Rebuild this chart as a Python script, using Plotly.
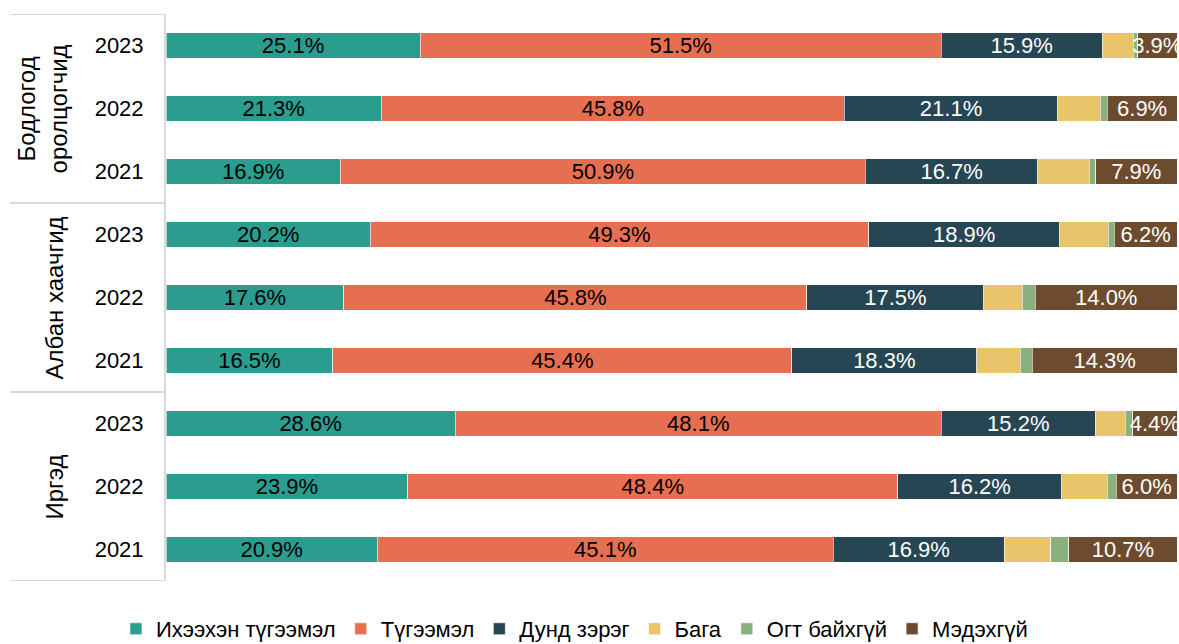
import plotly.graph_objects as go

groups = ["Бодлогод<br>оролцогчид", "Албан хаачгид", "Иргэд"]
years = ["2023", "2022", "2021"]

series_names = ["Ихээхэн түгээмэл", "Түгээмэл", "Дунд зэрэг", "Бага", "Огт байхгүй", "Мэдэхгүй"]
colors = ["#2A9D8F", "#E76F51", "#264653", "#E9C46A", "#8AB17D", "#6D4B2E"]
text_colors = ["black", "black", "white", None, None, "white"]
show_labels = [True, True, True, False, False, True]

# rows: Бодлогод 2023, 2022, 2021, Албан 2023, 2022, 2021, Иргэд 2023, 2022, 2021
ikh = [25.1, 21.3, 16.9, 20.2, 17.6, 16.5, 28.6, 23.9, 20.9]
tug = [51.5, 45.8, 50.9, 49.3, 45.8, 45.4, 48.1, 48.4, 45.1]
dund = [15.9, 21.1, 16.7, 18.9, 17.5, 18.3, 15.2, 16.2, 16.9]
baga = [3.1, 4.2, 5.0, 4.8, 3.8, 4.3, 3.0, 4.5, 4.6]
ogt = [0.4, 0.7, 0.6, 0.6, 1.3, 1.2, 0.7, 0.9, 1.8]
medekh = [3.9, 6.9, 7.9, 6.2, 14.0, 14.3, 4.4, 6.0, 10.7]

values = [ikh, tug, dund, baga, ogt, medekh]
row_pos = list(range(9))
row_years = years * 3

FONT = "Liberation Sans, Arial"

fig = go.Figure()
for name, vals, col, tcol, lab in zip(series_names, values, colors, text_colors, show_labels):
    fig.add_trace(go.Bar(
        y=row_pos, x=vals, name=name, orientation="h",
        marker=dict(color=col, line=dict(color="white", width=0.6)),
        width=0.4,
        text=[f"{v:.1f}%" for v in vals] if lab else None,
        textposition="inside" if lab else "none",
        insidetextanchor="middle",
        constraintext="none",
        cliponaxis=False,
        textfont=dict(size=22, color=tcol if tcol else "black", family=FONT),
        hoverinfo="name+x",
    ))

line_col = "#D9D9D9"
shapes = []
for yb in [-0.5, 2.5, 5.5, 8.5]:
    shapes.append(dict(type="line", xref="paper", yref="y", x0=-0.1543, x1=-0.002,
                       y0=yb, y1=yb, line=dict(color=line_col, width=2)))

annotations = []
group_x = [-0.1227, -0.1098, -0.1098]
for i, g in enumerate(groups):
    annotations.append(dict(xref="paper", yref="y", x=group_x[i], y=3 * i + 1,
                            text=g, textangle=-90, showarrow=False,
                            xanchor="center", yanchor="middle",
                            font=dict(size=24, color="black", family=FONT)))

fig.update_layout(
    barmode="stack", barnorm="percent",
    width=1179, height=644,
    margin=dict(l=166, r=2, t=14, b=63, autoexpand=False),
    paper_bgcolor="white", plot_bgcolor="white",
    font=dict(family=FONT, size=22, color="black"),
    uniformtext=dict(minsize=22, mode="show"),
    xaxis=dict(range=[0, 100], visible=False, fixedrange=True, automargin=False),
    yaxis=dict(range=[8.5, -0.5], tickvals=row_pos, ticktext=row_years,
               showgrid=False, zeroline=False, showline=True, linecolor=line_col,
               linewidth=2, ticks="", ticklabelstandoff=16, automargin=False,
               tickfont=dict(size=22, color="black")),
    legend=dict(orientation="h", x=0.404, xanchor="center", yref="container",
                y=0.056, yanchor="top",
                font=dict(size=22), traceorder="normal", itemwidth=30),
    shapes=shapes, annotations=annotations,
    showlegend=True,
)

fig.write_html(
    "out.html",
    config={"displayModeBar": False},
    post_script="document.body.style.margin='0';document.body.style.overflow='hidden';",
)
